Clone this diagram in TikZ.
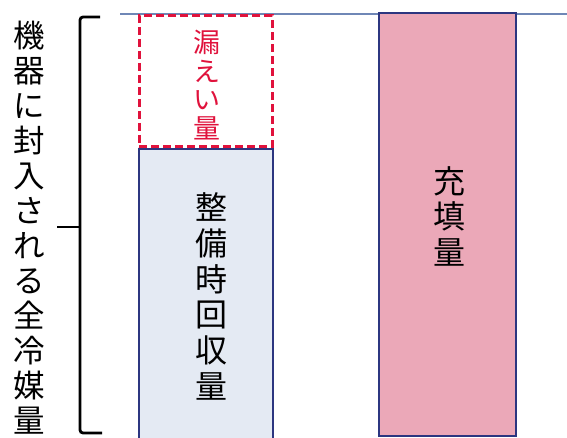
\documentclass[tikz,border=0pt]{standalone}
\usepackage{fontspec}
\newfontfamily\jp{Noto Sans CJK JP}
\definecolor{navy}{HTML}{2C3680}
\definecolor{boxblue}{HTML}{E4EAF3}
\definecolor{boxpink}{HTML}{EBA8B8}
\definecolor{leakred}{HTML}{E0123C}
\definecolor{topline}{HTML}{6F87B6}
\begin{document}
\begin{tikzpicture}[x=1pt,y=-1pt,
  vtext/.style={align=center,inner sep=0pt,text=black},
  bar/.style={draw=navy,inner sep=0pt}]
\useasboundingbox (0,0) rectangle (567,438);
\fill[white] (0,0) rectangle (567,438);
% top reference line
\coordinate (tl) at (120,14);
\coordinate (tr) at (567,14);
\draw[topline,line width=1.3pt] (tl) -- (tr);
% bars
\node[bar,fill=boxblue,line width=2pt,minimum width=134pt,minimum height=295pt] (recov) at (206,296.5) {};
\node[draw=leakred,line width=3pt,dash pattern=on 8pt off 4pt,fill=white,inner sep=0pt,minimum width=133pt,minimum height=131pt] (leak) at (205.5,81.5) {};
\node[bar,fill=boxpink,line width=2.6pt,minimum width=137pt,minimum height=423pt] (fill) at (447.5,224.5) {};
% brace
\coordinate (b1) at (100,17);
\coordinate (b2) at (80,17);
\coordinate (b3) at (80,433);
\coordinate (b4) at (102,433);
\coordinate (bm) at (80,227);
\coordinate (bt) at (57,227);
\draw[line width=2.8pt,rounded corners=3pt] (b1) -- (b2) -- (b3) -- (b4);
\draw[line width=2.8pt] (bm) -- (bt);
% texts
\node[vtext,font=\jp\fontsize{31.5}{35}\selectfont] (total) at (29,228)
  {機\\器\\に\\封\\入\\さ\\れ\\る\\全\\冷\\媒\\量};
\node[vtext,text=leakred,font=\jp\fontsize{27}{28.7}\selectfont] (leaktxt) at (207,85)
  {漏\\え\\い\\量};
\node[vtext,font=\jp\fontsize{32}{35.8}\selectfont] (recovtxt) at (211,296.5)
  {整\\備\\時\\回\\収\\量};
\node[vtext,font=\jp\fontsize{32}{35.5}\selectfont] (filltxt) at (449,216)
  {充\\填\\量};
\end{tikzpicture}
\end{document}
